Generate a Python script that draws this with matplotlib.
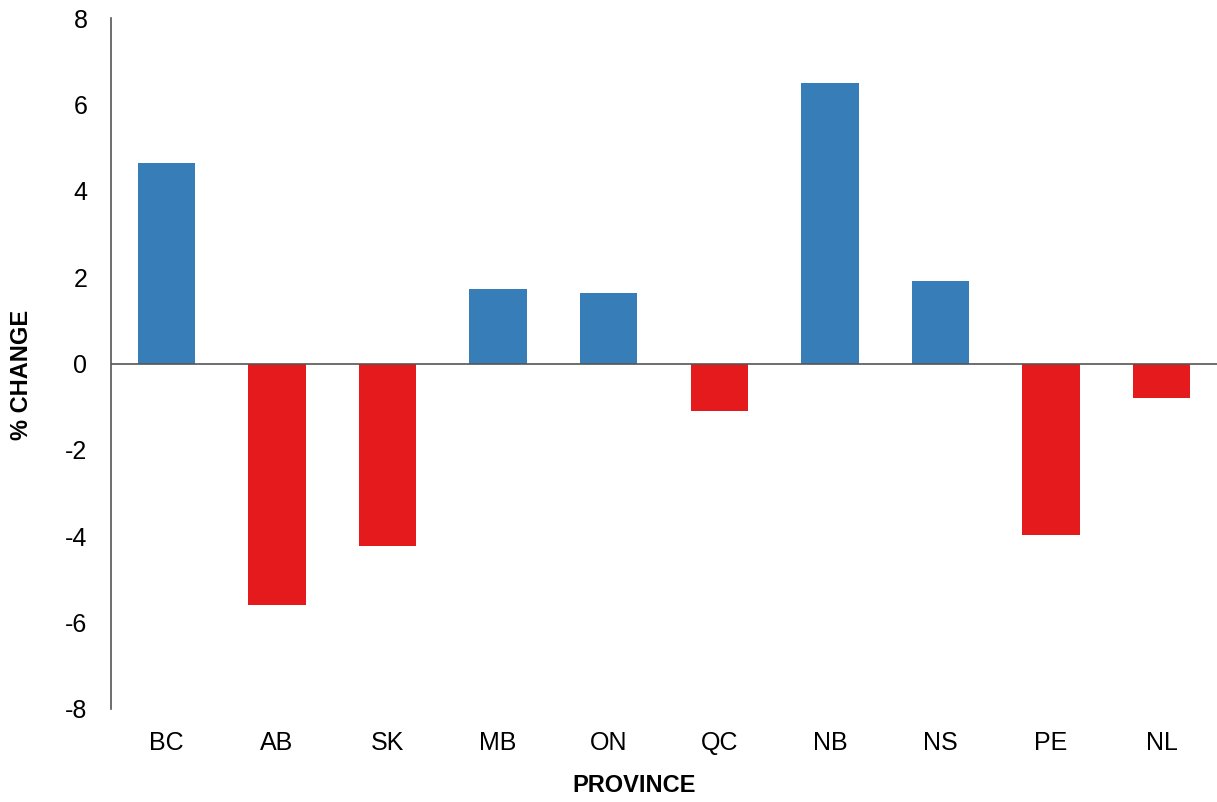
import matplotlib
matplotlib.use("Agg")
import matplotlib.pyplot as plt
from matplotlib import font_manager

provinces = ["BC", "AB", "SK", "MB", "ON", "QC", "NB", "NS", "PE", "NL"]
pct_change = [4.65, -5.6, -4.23, 1.73, 1.64, -1.11, 6.5, 1.92, -3.98, -0.79]
y_ticks = [-8, -6, -4, -2, 0, 2, 4, 6, 8]

names = {f.name for f in font_manager.fontManager.ttflist}
fam = "Liberation Sans Narrow" if "Liberation Sans Narrow" in names else "Liberation Sans"
plt.rcParams["font.family"] = [fam, "DejaVu Sans"]

blue = "#377EB8"
red = "#E41A1C"
colors = [blue if v >= 0 else red for v in pct_change]

W, H = 1217, 802
fig = plt.figure(figsize=(W / 100, H / 100), dpi=100)
ax = fig.add_axes([111 / W, (H - 709) / H, 1 - 111 / W, (709 - 18) / H])
x = list(range(len(provinces)))
ax.bar(x, pct_change, width=0.52, color=colors, zorder=2)
ax.axhline(0, color="#555555", linewidth=1.2, zorder=3)

ax.set_xlim(-0.5, 9.5)
ax.set_ylim(-8, 8)
ax.set_yticks(y_ticks)
ax.set_yticklabels([str(t) for t in y_ticks])
ax.set_xticks(x)
ax.set_xticklabels(provinces)
ax.tick_params(axis="both", length=0, labelsize=18)
ax.tick_params(axis="y", pad=17)
ax.tick_params(axis="x", pad=16)

for s in ["top", "right", "bottom"]:
    ax.spines[s].set_visible(False)
ax.spines["left"].set_color("#555555")
ax.spines["left"].set_linewidth(1.2)

fig.text(634 / W, 1 - 786 / H, "PROVINCE", fontsize=17, fontweight="bold",
         ha="center", va="center", family=["Liberation Sans", "DejaVu Sans"])
fig.text(22 / W, 1 - 375 / H, "% CHANGE", fontsize=17, fontweight="bold",
         ha="center", va="center", rotation=90,
         family=["Liberation Sans", "DejaVu Sans"])

fig.savefig("out.png", dpi=100)
